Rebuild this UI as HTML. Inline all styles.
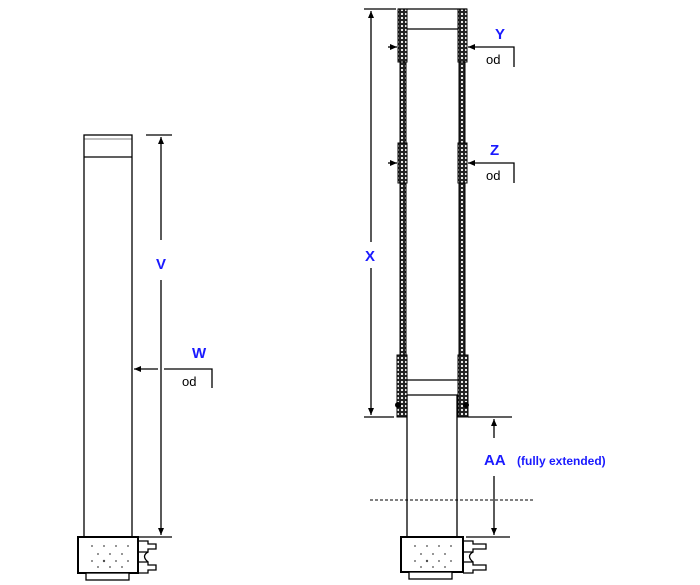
<!DOCTYPE html>
<html><head><style>body{margin:0;background:#fff}svg{display:block}text{font-family:"Liberation Sans",sans-serif}</style></head><body>
<svg width="700" height="585" viewBox="0 0 700 585" xmlns="http://www.w3.org/2000/svg">
<defs>
<pattern id="h" width="4" height="4" patternUnits="userSpaceOnUse"><rect width="4" height="4" fill="#222"/><circle cx="2" cy="2" r="1.1" fill="#fff"/></pattern>
<marker id="a" markerWidth="8" markerHeight="8" refX="7" refY="4" orient="auto" markerUnits="userSpaceOnUse"><path d="M0,1 L7,4 L0,7z" fill="#000"/></marker>
</defs>
<g stroke="#000" fill="none" stroke-width="1.3">
<rect x="84" y="135" width="48" height="402" fill="#fff"/>
<line x1="84" y1="157" x2="132" y2="157"/>
<line x1="84" y1="139" x2="132" y2="139" stroke-width="0.6"/>
<line x1="146" y1="135" x2="172" y2="135"/>
<line x1="161" y1="240" x2="161" y2="137" marker-end="url(#a)"/>
<line x1="161" y1="280" x2="161" y2="535" marker-end="url(#a)"/>
<line x1="132" y1="537" x2="172" y2="537"/>
<line x1="158" y1="369" x2="134" y2="369" marker-end="url(#a)"/>
<polyline points="164,369 212,369 212,388"/>
<rect x="78" y="537" width="60" height="36" fill="#fff" stroke-width="2"/>
<rect x="86" y="573" width="43" height="7" fill="#fff"/>
<path d="M138,541 h10 v3 h8 v5 h-8 v3 h-10 M138,562 h10 v3 h8 v5 h-8 v3 h-10"/>
<path d="M148,552 q-7,4 0,10"/>
<line x1="364" y1="9" x2="396" y2="9"/>
<line x1="371" y1="242" x2="371" y2="11" marker-end="url(#a)"/>
<line x1="371" y1="268" x2="371" y2="415" marker-end="url(#a)"/>
<line x1="364" y1="417" x2="394" y2="417"/>
</g>
<g stroke="#000" stroke-width="1">
<rect x="400" y="9" width="6" height="408" fill="url(#h)"/>
<rect x="459" y="9" width="6" height="408" fill="url(#h)"/>
<rect x="398" y="9" width="9" height="53" fill="url(#h)"/>
<rect x="458" y="9" width="9" height="53" fill="url(#h)"/>
<rect x="398" y="143" width="9" height="40" fill="url(#h)"/>
<rect x="458" y="143" width="9" height="40" fill="url(#h)"/>
<rect x="397" y="355" width="10" height="62" fill="url(#h)"/>
<rect x="458" y="355" width="10" height="62" fill="url(#h)"/>
<circle cx="398" cy="405" r="2.5" fill="#000"/><circle cx="466" cy="405" r="2.5" fill="#000"/>
</g>
<g stroke="#000" fill="none" stroke-width="1.3">
<line x1="398" y1="9" x2="467" y2="9"/>
<line x1="407" y1="29" x2="458" y2="29"/>
<line x1="407" y1="380" x2="458" y2="380"/>
<line x1="407" y1="395" x2="458" y2="395"/>
<line x1="407" y1="395" x2="407" y2="537"/>
<line x1="457" y1="395" x2="457" y2="537"/>
<line x1="388" y1="47" x2="397" y2="47" marker-end="url(#a)"/>
<line x1="486" y1="47" x2="468" y2="47" marker-end="url(#a)"/>
<polyline points="486,47 514,47 514,67"/>
<line x1="388" y1="163" x2="397" y2="163" marker-end="url(#a)"/>
<line x1="486" y1="163" x2="468" y2="163" marker-end="url(#a)"/>
<polyline points="486,163 514,163 514,183"/>
<line x1="468" y1="417" x2="512" y2="417"/>
<line x1="494" y1="438" x2="494" y2="419" marker-end="url(#a)"/>
<line x1="494" y1="476" x2="494" y2="535" marker-end="url(#a)"/>
<line x1="466" y1="537" x2="510" y2="537"/>
<line x1="370" y1="500" x2="535" y2="500" stroke-dasharray="3,2" stroke-width="1"/>
<rect x="401" y="537" width="62" height="35" fill="#fff" stroke-width="2"/>
<rect x="409" y="572" width="43" height="7" fill="#fff"/>
<path d="M463,541 h10 v3 h13 v5 h-13 v3 h-10 M463,562 h10 v3 h13 v5 h-13 v3 h-10"/>
<path d="M473,552 q-7,4 0,10"/>
</g>
<g fill="#000" opacity="0.7">
<circle cx="92" cy="546" r="0.9"/><circle cx="104" cy="546" r="0.9"/><circle cx="116" cy="546" r="0.9"/><circle cx="128" cy="546" r="0.9"/>
<circle cx="98" cy="554" r="0.9"/><circle cx="110" cy="554" r="0.9"/><circle cx="122" cy="554" r="0.9"/>
<circle cx="92" cy="561" r="0.9"/><circle cx="104" cy="561" r="1.2"/><circle cx="116" cy="561" r="0.9"/><circle cx="128" cy="561" r="0.9"/>
<circle cx="98" cy="567" r="0.9"/><circle cx="110" cy="567" r="0.9"/><circle cx="122" cy="567" r="0.9"/>
<circle cx="415" cy="546" r="0.9"/><circle cx="427" cy="546" r="0.9"/><circle cx="439" cy="546" r="0.9"/><circle cx="451" cy="546" r="0.9"/>
<circle cx="421" cy="554" r="0.9"/><circle cx="433" cy="554" r="0.9"/><circle cx="445" cy="554" r="0.9"/>
<circle cx="415" cy="561" r="0.9"/><circle cx="427" cy="561" r="1.2"/><circle cx="439" cy="561" r="0.9"/><circle cx="451" cy="561" r="0.9"/>
<circle cx="421" cy="567" r="0.9"/><circle cx="433" cy="567" r="0.9"/><circle cx="445" cy="567" r="0.9"/>
</g>
<g fill="#1a1aff" font-weight="bold" font-size="15">
<text x="156" y="269">V</text>
<text x="192" y="358">W</text>
<text x="365" y="261">X</text>
<text x="495" y="39">Y</text>
<text x="490" y="155">Z</text>
<text x="484" y="465">AA</text>
<text x="517" y="465" font-size="12">(fully extended)</text>
</g>
<g fill="#000" font-size="13">
<text x="182" y="386">od</text>
<text x="486" y="64">od</text>
<text x="486" y="180">od</text>
</g>
</svg>
</body></html>
